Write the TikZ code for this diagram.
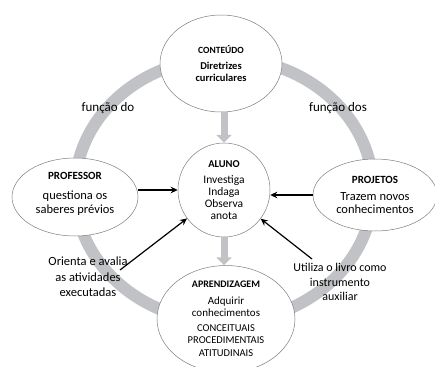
\documentclass[tikz,border=0pt]{standalone}
\usepackage{fontspec}
\setmainfont{Carlito}
\usepackage{xcolor}
\usepackage{tikz}
\usetikzlibrary{shapes,arrows.meta,positioning,calc}

\definecolor{ringgray}{RGB}{192,194,197}
\definecolor{edgegray}{RGB}{125,125,125}
\tikzset{
  bubble/.style={ellipse, draw=edgegray, line width=0.5pt, fill=white, inner sep=0pt, align=center},
  flowarrow/.style={line width=7pt, draw=ringgray, -{Triangle[width=15pt,length=8pt]}},
  linkarrow/.style={line width=1.2pt, -{Stealth[length=7pt,width=6.5pt]}},
  note/.style={align=center, font=\fontsize{12.5}{15.5}\selectfont}
}

\begin{document}
\begin{tikzpicture}[x=1pt,y=-1pt]
    \useasboundingbox (0,0) rectangle (435,366);
    % anel cinza
    \draw[ringgray, line width=12pt] (224,190) ellipse [x radius=149pt, y radius=132pt];

    \node[bubble, minimum width=122pt, minimum height=97pt, font=\bfseries\fontsize{10.5}{12}\selectfont] (conteudo) at (221,63.5)
        {{\fontsize{9.5}{12}\selectfont CONTEÚDO}\\[4pt] Diretrizes\\ curriculares};
    \node[bubble, minimum width=92pt, minimum height=94pt, font=\fontsize{11.5}{12}\selectfont] (aluno) at (224,190)
        {{\bfseries\fontsize{10.5}{12}\selectfont ALUNO}\\[4pt] Investiga\\ Indaga\\ Observa\\ anota};
    \node[bubble, minimum width=126pt, minimum height=78pt, font=\fontsize{12.5}{14}\selectfont] (professor) at (75,197)
        {{\bfseries\fontsize{11}{14}\selectfont PROFESSOR}\\[6pt] questiona os\\ saberes prévios\\[-6pt]\mbox{}};
    \node[bubble, minimum width=124pt, minimum height=72pt, font=\fontsize{12.5}{12.5}\selectfont] (projetos) at (375,195)
        {{\bfseries\fontsize{11}{12.5}\selectfont PROJETOS}\\[4.5pt] Trazem novos\\ conhecimentos};
    \node[bubble, minimum width=138pt, minimum height=92pt, font=\fontsize{11}{12}\selectfont] (aprend) at (226,319)
        {{\bfseries\fontsize{10}{12}\selectfont APRENDIZAGEM}\\[5pt] Adquirir\\ conhecimentos\\[3pt]
         {\fontsize{10.5}{12}\selectfont CONCEITUAIS}\\ {\fontsize{10.5}{12}\selectfont PROCEDIMENTAIS}\\[1pt]
         {\fontsize{10.5}{12}\selectfont ATITUDINAIS}};

    % setas cinza
    \draw[flowarrow] (aluno.north |- conteudo.south) -- (aluno.north);
    \draw[flowarrow] (aluno.south) -- (aluno.south |- aprend.north);

    % rotulos
    \node[font=\fontsize{13}{15}\selectfont] (fundo) at (108,108) {função do};
    \node[font=\fontsize{13}{15}\selectfont] (fundos) at (338,108) {função dos};
    \node[note] (orienta) at (88,277) {Orienta e avalia\\ as atividades\\ executadas};
    \node[note, font=\fontsize{12}{14.5}\selectfont] (utiliza) at (340,282) {Utiliza o livro como\\ instrumento\\ auxiliar};

    % setas pretas
    \coordinate (ortail) at (120,270);
    \coordinate (uttail) at (312,259);
    \draw[linkarrow] (professor.east |- aluno.west) -- (aluno.west);
    \draw[linkarrow] (projetos.west) -- (projetos.west -| aluno.east);
    \draw[linkarrow] (ortail) -- (aluno);
    \draw[linkarrow] (uttail) -- (aluno);
\end{tikzpicture}
\end{document}
